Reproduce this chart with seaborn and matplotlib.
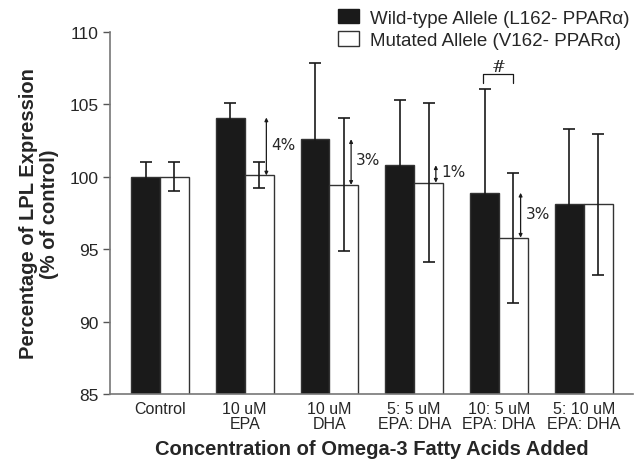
import matplotlib
matplotlib.use("Agg")
import matplotlib.pyplot as plt
import seaborn as sns
import pandas as pd
from matplotlib.patches import Patch

categories = ["Control", "10 uM\nEPA", "10 uM\nDHA", "5: 5 uM\nEPA: DHA", "10: 5 uM\nEPA: DHA", "5: 10 uM\nEPA: DHA"]
wild_mean = [100.0, 104.1, 102.6, 100.8, 98.9, 98.1]
wild_err = [1.0, 1.0, 5.3, 4.5, 7.2, 5.2]
mut_mean = [100.0, 100.1, 99.45, 99.6, 95.8, 98.1]
mut_err = [1.0, 0.9, 4.6, 5.5, 4.5, 4.85]
series = ["Wild-type Allele (L162- PPAR\u03b1)", "Mutated Allele (V162- PPAR\u03b1)"]
# percentage differences marked with arrows: (group index, label)
diffs = [(1, "4%"), (2, "3%"), (3, "1%"), (4, "3%")]

sns.set_style("white")
plt.rcParams["font.family"] = ["Liberation Sans", "DejaVu Sans"]

df = pd.DataFrame({
    "cat": categories * 2,
    "val": wild_mean + mut_mean,
    "err": wild_err + mut_err,
    "allele": [series[0]] * 6 + [series[1]] * 6,
})

fig = plt.figure(figsize=(6.38, 4.6), dpi=100)
ax = fig.add_axes([0.1724, 0.1413, 0.8196, 0.7867])

sns.barplot(data=df, x="cat", y="val", hue="allele", palette=["#1a1a1a", "white"],
            edgecolor="#333333", linewidth=1.0, width=0.68, gap=0, errorbar=None,
            legend=False, ax=ax, zorder=1)

# bars -> error bars
patches = ax.patches[:12]
for p, m, e in zip(patches, wild_mean + mut_mean, wild_err + mut_err):
    xc = p.get_x() + p.get_width() / 2
    ax.errorbar(xc, m, yerr=e, fmt="none", ecolor="#1a1a1a", elinewidth=1.2,
                capsize=4, capthick=1.2, zorder=2)

# double arrows for differences
for gi, lab in diffs:
    pm = patches[gi + 6]
    xa = pm.get_x() + pm.get_width() * 0.75
    ax.annotate("", xy=(xa, wild_mean[gi]), xytext=(xa, mut_mean[gi]),
                arrowprops=dict(arrowstyle="<|-|>", color="#1a1a1a", lw=0.9,
                                mutation_scale=5, shrinkA=0, shrinkB=0))
    ax.text(xa + 0.06, (wild_mean[gi] + mut_mean[gi]) / 2 + 0.15, lab,
            fontsize=11, ha="left", va="center", family="DejaVu Sans")

# significance bracket
b1 = patches[4].get_x() + patches[4].get_width() * 0.45
b2 = patches[10].get_x() + patches[10].get_width() * 0.5
ax.plot([b1, b1, b2, b2], [106.5, 107.1, 107.1, 106.5], color="#1a1a1a", lw=0.9, clip_on=False)
ax.text((b1 + b2) / 2, 107.05, "#", ha="center", va="bottom", fontsize=12, family="DejaVu Serif")

ax.set_ylim(85, 110)
ax.set_xlim(-0.59, 5.58)
ax.set_yticks([85, 90, 95, 100, 105, 110])
ax.tick_params(axis="y", length=5, width=1, color="#555555", labelsize=12.5, direction="out", left=True, pad=3)
ax.tick_params(axis="x", length=0, labelsize=11.5, pad=5)
for t in ax.get_xticklabels():
    t.set_linespacing(1.0)
for s in ["top", "right"]:
    ax.spines[s].set_visible(False)
for s in ["left", "bottom"]:
    ax.spines[s].set_color("#777777")
    ax.spines[s].set_linewidth(1.2)

ax.set_xlabel("Concentration of Omega-3 Fatty Acids Added", fontsize=14.5, fontweight="bold", labelpad=6)
ax.set_ylabel("Percentage of LPL Expression\n(% of control)", fontsize=14.5, fontweight="bold",
              labelpad=8, linespacing=1.1)

handles = [Patch(facecolor="#1a1a1a", edgecolor="#1a1a1a"), Patch(facecolor="white", edgecolor="#333333")]
fig.legend(handles, series, loc="upper left", bbox_to_anchor=(338 / 638, 1 - 10 / 460), frameon=False,
           fontsize=13.5, handlelength=1.1, handleheight=0.8, handletextpad=0.6, labelspacing=0.25,
           borderpad=0, borderaxespad=0)

fig.savefig("out.png", dpi=100)
